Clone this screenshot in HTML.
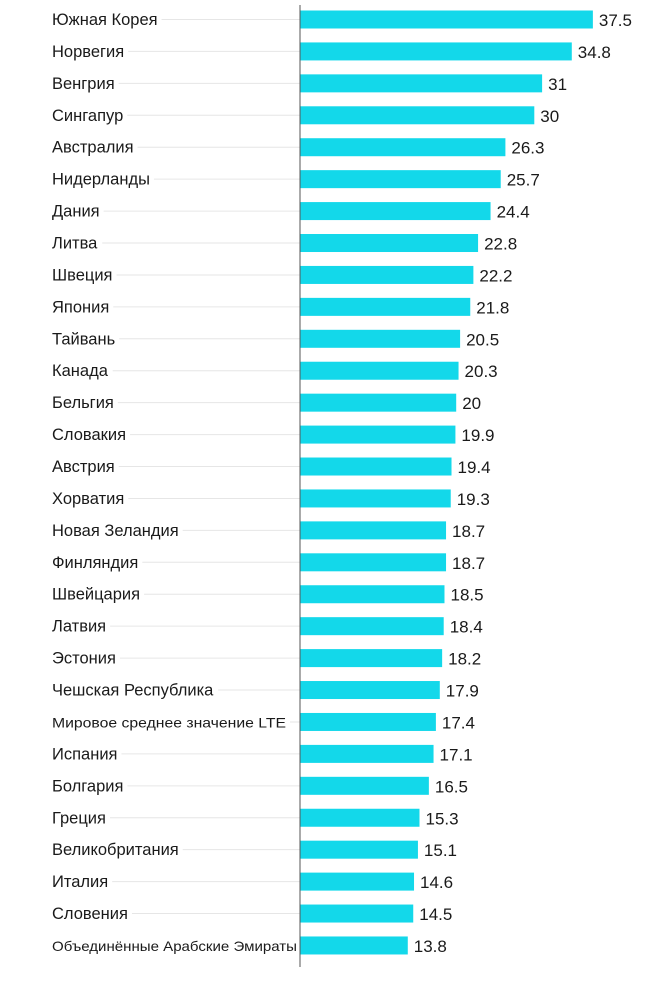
<!DOCTYPE html>
<html><head><meta charset="utf-8"><style>
body{margin:0;background:#fff;width:671px;height:977px;overflow:hidden}
svg text{font-family:"Liberation Sans",sans-serif;fill:#1a1a1a}
</style></head><body>
<svg id="chart" width="671" height="977"></svg>
<script>
const categories=["Южная Корея","Норвегия","Венгрия","Сингапур","Австралия","Нидерланды","Дания","Литва","Швеция","Япония","Тайвань","Канада","Бельгия","Словакия","Австрия","Хорватия","Новая Зеландия","Финляндия","Швейцария","Латвия","Эстония","Чешская Республика","Мировое среднее значение LTE","Испания","Болгария","Греция","Великобритания","Италия","Словения","Объединённые Арабские Эмираты"];
const values=[37.5,34.8,31,30,26.3,25.7,24.4,22.8,22.2,21.8,20.5,20.3,20,19.9,19.4,19.3,18.7,18.7,18.5,18.4,18.2,17.9,17.4,17.1,16.5,15.3,15.1,14.6,14.5,13.8];
const valueLabels=["37.5","34.8","31","30","26.3","25.7","24.4","22.8","22.2","21.8","20.5","20.3","20","19.9","19.4","19.3","18.7","18.7","18.5","18.4","18.2","17.9","17.4","17.1","16.5","15.3","15.1","14.6","14.5","13.8"];
const NS="http://www.w3.org/2000/svg";
const svg=document.getElementById('chart');
const x0=300,scale=7.81;
const xs=v=>x0+v*scale;
const ys=i=>19.5+i*31.93;
function mk(t,a){const e=document.createElementNS(NS,t);for(const k in a)e.setAttribute(k,a[k]);svg.appendChild(e);return e;}
categories.forEach((c,i)=>{
  const y=ys(i);
  const g=mk('line',{x1:52,x2:x0,y1:y,y2:y,stroke:'#e6e6e6','stroke-width':1});
  
  
  const long=c.length>25;
  const t=mk('text',{x:52,y:y+5.5,'font-size':long?14:16.5});
  if(long){t.setAttribute('textLength',c.length>28?245:234);t.setAttribute('lengthAdjust','spacingAndGlyphs');}
  t.textContent=c;
  
  
  const bb=t.getBBox();
  const bg=mk('rect',{x:bb.x-2,y:bb.y,width:bb.width+6,height:bb.height,fill:'#fff'});
  svg.insertBefore(bg,t);
  
  
  const r=mk('rect',{x:x0,y:y-9,width:xs(values[i])-x0,height:18,fill:'#13d8ea'});
  
  
  const v=mk('text',{x:xs(values[i])+6,y:y+6.5,'font-size':17});
  v.textContent=valueLabels[i];
  
  
});
const ax=mk('line',{x1:x0,x2:x0,y1:5,y2:967,stroke:'#555','stroke-width':1});


</script>
</body></html>
